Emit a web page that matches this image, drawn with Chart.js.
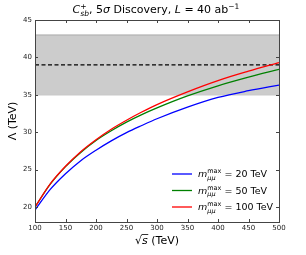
<!DOCTYPE html>
<html>
<head>
<meta charset="utf-8">
<script src="https://cdn.jsdelivr.net/npm/chart.js@4.4.1/dist/chart.umd.min.js"></script>
<style>
  body { margin: 0; background: #ffffff; }
  canvas { display: block; }
</style>
</head>
<body>
<canvas id="chart" width="306" height="255"></canvas>
<script>
// Data
const sqrtS = [100, 125, 150, 175, 200, 225, 250, 275, 300, 350, 400, 450, 500];
const lambda20 = [19.6, 22.35, 24.45, 26.2, 27.6, 28.85, 29.95, 30.9, 31.8, 33.35, 34.65, 35.55, 36.3];
const lambda50 = [20.0, 23.05, 25.4, 27.3, 28.9, 30.2, 31.35, 32.35, 33.25, 34.85, 36.2, 37.35, 38.4];
const lambda100 = [20.0, 23.1, 25.45, 27.4, 29.0, 30.4, 31.6, 32.7, 33.7, 35.4, 36.9, 38.15, 39.3];
const legendMasses = [20, 50, 100];
const bandRange = [35, 43];
const lambdaRef = 39;
const xTicks = [100, 150, 200, 250, 300, 350, 400, 450, 500];
const yTicks = [20, 25, 30, 35, 40, 45];

const FONT = '"DejaVu Sans", sans-serif';

function toPoints(xs, ys) {
  return xs.map((x, i) => ({x: x, y: ys[i]}));
}

function flatLine(v) {
  return [{x: sqrtS[0], y: v}, {x: sqrtS[sqrtS.length - 1], y: v}];
}

// Lay out mixed text (italic, sub/superscripts) and draw it
function drawRich(ctx, x, y, parts, align) {
  let cx = 0, items = [], stackStart = null, stackW = 0;
  parts.forEach(p => {
    ctx.font = (p.i ? "italic " : "") + p.s + "px " + FONT;
    let w = ctx.measureText(p.t).width;
    if (stackStart !== null) {
      items.push({p: p, x: stackStart});
      cx = stackStart + Math.max(stackW, w);
      stackStart = null;
    } else {
      items.push({p: p, x: cx});
      if (p.keep) { stackStart = cx; stackW = w; } else { cx += w; }
    }
  });
  let x0 = align === "center" ? x - cx / 2 : x;
  ctx.textAlign = "left";
  ctx.textBaseline = "alphabetic";
  items.forEach(it => {
    ctx.font = (it.p.i ? "italic " : "") + it.p.s + "px " + FONT;
    ctx.fillText(it.p.t, x0 + it.x, y + (it.p.dy || 0));
  });
  return {x0: x0, items: items};
}

const decorPlugin = {
  id: "decor",
  afterDraw(chart) {
    const ctx = chart.ctx;
    const a = chart.chartArea;
    const xs = chart.scales.x, ys = chart.scales.y;
    ctx.save();
    // frame
    ctx.strokeStyle = "#444444";
    ctx.lineWidth = 1;
    ctx.strokeRect(Math.round(a.left) + 0.5, Math.round(a.top) + 0.5,
      Math.round(a.right - a.left), Math.round(a.bottom - a.top));
    // inward ticks on all four sides
    const tl = 3;
    ctx.beginPath();
    xTicks.forEach(v => {
      let px = Math.round(xs.getPixelForValue(v)) + 0.5;
      ctx.moveTo(px, a.bottom); ctx.lineTo(px, a.bottom - tl);
      ctx.moveTo(px, a.top); ctx.lineTo(px, a.top + tl);
    });
    yTicks.forEach(v => {
      let py = Math.round(ys.getPixelForValue(v)) + 0.5;
      ctx.moveTo(a.left, py); ctx.lineTo(a.left + tl, py);
      ctx.moveTo(a.right, py); ctx.lineTo(a.right - tl, py);
    });
    ctx.stroke();

    ctx.fillStyle = "#000000";
    // title
    drawRich(ctx, 156, 13, [
      {t: "C", s: 11, i: true},
      {t: "sb", s: 7.5, i: true, dy: 2.5, keep: true},
      {t: "+", s: 7.5, dy: -4.5},
      {t: ", 5", s: 11},
      {t: "σ", s: 11, i: true},
      {t: " Discovery, ", s: 11},
      {t: "L", s: 11, i: true},
      {t: " = 40 ab", s: 11},
      {t: "−1", s: 7.5, dy: -4.5}
    ], "center");

    // x axis title: sqrt(s) (TeV)
    let r = drawRich(ctx, 157, 244, [
      {t: "√", s: 11},
      {t: "s", s: 11, i: true},
      {t: " (TeV)", s: 11}
    ], "center");
    ctx.font = "italic 11px " + FONT;
    let sx = r.x0 + r.items[1].x;
    let sw = ctx.measureText("s").width;
    ctx.beginPath();
    ctx.lineWidth = 0.8;
    ctx.strokeStyle = "#000000";
    ctx.moveTo(sx - 0.5, 234.5); ctx.lineTo(sx + sw + 0.5, 234.5);
    ctx.stroke();

    // y axis title
    ctx.save();
    ctx.translate(13, 121);
    ctx.rotate(-Math.PI / 2);
    ctx.font = "11px " + FONT;
    ctx.textAlign = "center";
    ctx.textBaseline = "middle";
    ctx.fillText("Λ (TeV)", 0, 0);
    ctx.restore();

    // legend
    const legendColors = ["#0000ff", "#008000", "#ff0000"];
    const rowY = [174, 190.5, 207];
    legendMasses.forEach((m, i) => {
      ctx.beginPath();
      ctx.strokeStyle = legendColors[i];
      ctx.lineWidth = 1.3;
      ctx.moveTo(172, rowY[i]); ctx.lineTo(192, rowY[i]);
      ctx.stroke();
      ctx.fillStyle = "#000000";
      drawRich(ctx, 198, rowY[i] + 3, [
        {t: "m", s: 9.5, i: true},
        {t: "μμ", s: 6.5, i: true, dy: 2.5, keep: true},
        {t: "max", s: 6.5, dy: -4},
        {t: " = " + m + " TeV", s: 9.5}
      ], "left");
    });
    ctx.restore();
  }
};

const lineStyle = {
  pointRadius: 0,
  borderWidth: 1.3,
  fill: false,
  cubicInterpolationMode: "monotone"
};

new Chart(document.getElementById("chart"), {
  type: "line",
  data: {
    datasets: [
      Object.assign({label: "20", data: toPoints(sqrtS, lambda20), borderColor: "#0000ff", order: 2}, lineStyle),
      Object.assign({label: "50", data: toPoints(sqrtS, lambda50), borderColor: "#008000", order: 1}, lineStyle),
      Object.assign({label: "100", data: toPoints(sqrtS, lambda100), borderColor: "#ff0000", order: 0}, lineStyle),
      {
        label: "ref", data: flatLine(lambdaRef), borderColor: "#000000", borderWidth: 1.1,
        borderDash: [4, 2.5], pointRadius: 0, fill: false, order: 5
      },
      {
        label: "bandHigh", data: flatLine(bandRange[1]), borderColor: "#aaaaaa", borderWidth: 1,
        backgroundColor: "#cccccc", pointRadius: 0, fill: "+1", order: 10
      },
      {
        label: "bandLow", data: flatLine(bandRange[0]), borderColor: "#aaaaaa", borderWidth: 1,
        pointRadius: 0, fill: false, order: 11
      }
    ]
  },
  options: {
    responsive: false,
    animation: false,
    devicePixelRatio: 1,
    layout: {padding: {top: 20, right: 27, left: 0, bottom: 0}},
    plugins: {
      legend: {display: false},
      title: {display: false},
      tooltip: {enabled: false}
    },
    scales: {
      x: {
        type: "linear",
        min: 100,
        max: 500,
        grid: {display: false, drawTicks: false},
        border: {display: false},
        afterFit: s => { s.height = 33; },
        afterBuildTicks: s => { s.ticks = xTicks.map(v => ({value: v})); },
        ticks: {
          font: {family: "DejaVu Sans", size: 7},
          color: "#222222",
          padding: 1.5,
          maxRotation: 0,
          autoSkip: false
        }
      },
      y: {
        type: "linear",
        min: 18,
        max: 45,
        grid: {display: false, drawTicks: false},
        border: {display: false},
        afterFit: s => { s.width = 35; },
        afterBuildTicks: s => { s.ticks = yTicks.map(v => ({value: v})); },
        ticks: {
          font: {family: "DejaVu Sans", size: 7},
          color: "#222222",
          padding: 3,
          autoSkip: false
        }
      }
    }
  },
  plugins: [decorPlugin]
});
</script>
</body>
</html>
